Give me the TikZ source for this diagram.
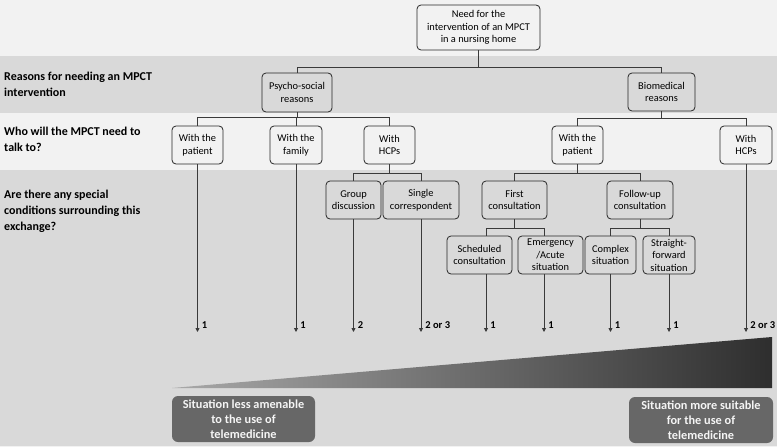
\documentclass[tikz,border=0pt]{standalone}
\usepackage{fontspec}
\setmainfont{Carlito}
\usetikzlibrary{arrows.meta}
\definecolor{bglight}{HTML}{F2F2F2}
\definecolor{bgdark}{HTML}{D9D9D9}
\definecolor{linec}{HTML}{3A3A3A}
\definecolor{boxdark}{HTML}{676767}
\definecolor{wedgel}{HTML}{A8A8A8}
\definecolor{wedger}{HTML}{2E2E2E}
\tikzset{
  box/.style={draw=black!85, line width=0.8pt, rounded corners=4pt, align=center,
    inner sep=1pt, font=\fontsize{10.4}{12.5}\selectfont, minimum height=38pt},
  conn/.style={draw=linec, line width=0.8pt},
  arr/.style={draw=linec, line width=0.8pt, -{Triangle[length=4pt,width=4pt]}},
  num/.style={font=\bfseries\fontsize{10.5}{12}\selectfont, anchor=west, inner sep=0pt},
  rowlabel/.style={font=\bfseries\fontsize{12}{16}\selectfont, anchor=west, align=left, inner sep=0pt},
  endbox/.style={fill=boxdark, rounded corners=6pt, align=center, text=white!96!black,
    font=\bfseries\fontsize{12.3}{15}\selectfont, minimum width=143pt, minimum height=46pt, inner sep=0pt}
}
\begin{document}
\begin{tikzpicture}[x=1pt,y=-1pt]
\useasboundingbox (0,0) rectangle (777,447);
% bands
\fill[bglight] (0,0) rectangle (777,447);
\fill[bgdark] (0,56) rectangle (777,113);
\fill[bgdark] (0,170) rectangle (777,446);
% row labels
\node[rowlabel] (r1) at (4,84) {Reasons for needing an MPCT\\intervention};
\node[rowlabel] (r2) at (4,139.5) {Who will the MPCT need to\\talk to?};
\node[rowlabel] (r3) at (4,211.5) {Are there any special\\conditions surrounding this\\exchange?};
% nodes
\node[box, fill=bglight, minimum width=123pt, minimum height=45pt] (top) at (478.5,27.5) {Need for the\\intervention of an MPCT\\in a nursing home};
\node[box, fill=bgdark, minimum width=70pt, minimum height=39pt] (psy) at (297,92.5) {Psycho-social\\reasons};
\node[box, fill=bgdark, minimum width=67pt] (bio) at (661.5,92) {Biomedical\\reasons};
\node[box, fill=bglight, minimum width=51pt] (pat1) at (197.5,145) {With the\\patient};
\node[box, fill=bglight, minimum width=52pt] (fam) at (296,145) {With the\\family};
\node[box, fill=bglight, minimum width=51pt] (hcp1) at (389.5,145) {With\\HCPs};
\node[box, fill=bglight, minimum width=51pt] (pat2) at (577.5,145) {With the\\patient};
\node[box, fill=bglight, minimum width=52pt] (hcp2) at (746,145) {With\\HCPs};
\node[box, fill=bgdark, minimum width=55pt] (grp) at (353.5,200) {Group\\discussion};
\node[box, fill=bgdark, minimum width=76pt] (sing) at (421,200) {Single\\correspondent};
\node[box, fill=bgdark, minimum width=65pt] (first) at (514.5,200) {First\\consultation};
\node[box, fill=bgdark, minimum width=66pt] (fol) at (640,200) {Follow-up\\consultation};
\node[box, fill=bgdark, minimum width=65pt] (sched) at (479.5,255) {Scheduled\\consultation};
\node[box, fill=bgdark, minimum width=65pt] (emer) at (550.5,255) {Emergency\\/Acute\\situation};
\node[box, fill=bgdark, minimum width=51pt] (comp) at (610.5,255) {Complex\\situation};
\node[box, fill=bgdark, minimum width=52pt] (str) at (669,255) {Straight-\\forward\\situation};
% tree connectors
\draw[conn] (top.south) -- (top.south |- 0,67);
\draw[conn] (psy.north) |- (bio.north |- 0,67) -- (bio.north);
\draw[conn] (psy.south) -- (psy.south |- 0,117);
\draw[conn] (pat1.north) |- (hcp1.north |- 0,117) -- (hcp1.north);
\draw[conn] (fam.north) -- (fam.north |- 0,117);
\draw[conn] (bio.south) -- (bio.south |- 0,118);
\draw[conn] (pat2.north) |- (hcp2.north |- 0,118) -- (hcp2.north);
\draw[conn] (hcp1.south) -- (hcp1.south |- 0,173);
\draw[conn] (grp.north) |- (sing.north |- 0,173) -- (sing.north);
\draw[conn] (pat2.south) -- (pat2.south |- 0,173);
\draw[conn] (first.north) |- (fol.north |- 0,173) -- (fol.north);
\draw[conn] (first.south) -- (first.south |- 0,228);
\draw[conn] ([xshift=6.5pt]sched.north) |- ([xshift=-6.5pt]emer.north |- 0,228) -- ([xshift=-6.5pt]emer.north);
\draw[conn] (fol.south) -- (fol.south |- 0,228);
\draw[conn] (comp.north) |- (str.north |- 0,228) -- (str.north);
% arrows to the scale
\draw[arr] (pat1.south) -- (pat1.south |- 0,332) node[num, pos=1, xshift=4pt, yshift=7pt] {1};
\draw[arr] (fam.south) -- (fam.south |- 0,332) node[num, pos=1, xshift=4pt, yshift=7pt] {1};
\draw[arr] (grp.south) -- (grp.south |- 0,332) node[num, pos=1, xshift=4pt, yshift=7pt] {2};
\draw[arr] (sing.south) -- (sing.south |- 0,332) node[num, pos=1, xshift=4pt, yshift=7pt] {2 or 3};
\draw[arr] ([xshift=6.5pt]sched.south) -- ([xshift=6.5pt]sched.south |- 0,332) node[num, pos=1, xshift=4pt, yshift=7pt] {1};
\draw[arr] ([xshift=-6.5pt]emer.south) -- ([xshift=-6.5pt]emer.south |- 0,332) node[num, pos=1, xshift=4pt, yshift=7pt] {1};
\draw[arr] (comp.south) -- (comp.south |- 0,332) node[num, pos=1, xshift=4pt, yshift=7pt] {1};
\draw[arr] (str.south) -- (str.south |- 0,332) node[num, pos=1, xshift=4pt, yshift=7pt] {1};
\draw[arr] (hcp2.south) -- (hcp2.south |- 0,332) node[num, pos=1, xshift=4pt, yshift=7pt] {2 or 3};
% wedge
\shade[left color=wedgel, right color=wedger] (172,388) -- (772,337) -- (772,388) -- cycle;
% end boxes
\node[endbox] (less) at (243.5,419) {Situation less amenable\\to the use of\\telemedicine};
\node[endbox, minimum width=144pt] (more) at (701,420) {Situation more suitable\\for the use of\\telemedicine};
\end{tikzpicture}
\end{document}
